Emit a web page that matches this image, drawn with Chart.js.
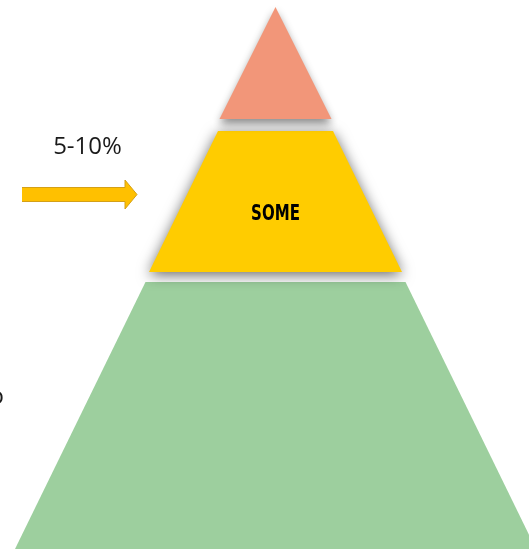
<!DOCTYPE html>
<html>
<head>
<meta charset="utf-8">
<script src="https://cdn.jsdelivr.net/npm/chart.js@4.4.1/dist/chart.umd.min.js"></script>
<style>
  html, body { margin: 0; padding: 0; background: #fff; }
  #wrap { width: 529px; height: 549px; }
</style>
</head>
<body>
<div id="wrap"><canvas id="chart" width="529" height="549"></canvas></div>
<script>
// Niveaux de la pyramide, du haut vers le bas (coordonnées)
const levelNames = ["", "SOME", ""];
const levelTopY = [7, 131, 282];
const levelBottomY = [119, 272, 549];
const levelTopHalf = [0, 57.5, 130];
const levelBottomHalf = [56, 126.5, 260.5];
const levelColors = ["#F29679", "#FFCC00", "#9DCF9E"];
const pyramidCenter = 275.5;

// Annotation à gauche
const sideLabel = "5-10%";
const cutLabel = "o";

// Ombres portées par niveau (le vert n'en a pas)
const SHADOWS = [
  { color: "rgba(0,0,0,0.45)", blur: 9, dy: 5 },
  { color: "rgba(0,0,0,0.6)", blur: 14, dy: 3 },
  null
];

function levelPolygon(i) {
  const c = pyramidCenter;
  return [
    { x: c - levelTopHalf[i], y: levelTopY[i] },
    { x: c + levelTopHalf[i], y: levelTopY[i] },
    { x: c + levelBottomHalf[i], y: levelBottomY[i] },
    { x: c - levelBottomHalf[i], y: levelBottomY[i] }
  ];
}

// Flèche jaune (forme annotée, pas une donnée)
const arrowShape = [
  { x: 22, y: 187.5 }, { x: 125, y: 187.5 }, { x: 125, y: 180 },
  { x: 137, y: 194.5 }, { x: 125, y: 209 }, { x: 125, y: 201.5 }, { x: 22, y: 201.5 }
];

const datasets = levelNames.map((name, i) => ({
  label: name || "level" + i,
  data: levelPolygon(i),
  showLine: true,
  fill: "shape",
  backgroundColor: levelColors[i],
  borderWidth: 0,
  pointRadius: 0,
  tension: 0
}));

datasets.push({
  label: "arrow",
  data: arrowShape,
  showLine: true,
  fill: "shape",
  backgroundColor: "#FFC000",
  borderColor: "#D4A017",
  borderWidth: 1,
  pointRadius: 0,
  tension: 0
});

function applyShadow(ctx, idx) {
  const s = SHADOWS[idx];
  if (!s) return;
  ctx.shadowColor = s.color;
  ctx.shadowBlur = s.blur;
  ctx.shadowOffsetX = 0;
  ctx.shadowOffsetY = s.dy;
}

// Le Filler dessine avant notre hook, donc on prépare l'ombre du dataset suivant
// (Chart.js dessine les datasets du dernier au premier)
const shadowPlugin = {
  id: "shadows",
  beforeDatasetsDraw(chart) {
    chart.ctx.save();
    applyShadow(chart.ctx, chart.data.datasets.length - 1);
  },
  afterDatasetDraw(chart, args) {
    chart.ctx.restore();
    chart.ctx.save();
    applyShadow(chart.ctx, args.index - 1);
  },
  afterDatasetsDraw(chart) {
    chart.ctx.restore();
  }
};

const labelPlugin = {
  id: "labels",
  afterDraw(chart) {
    const { ctx, scales: { x, y } } = chart;
    ctx.save();
    ctx.fillStyle = "#1a1a1a";
    ctx.textAlign = "center";
    ctx.textBaseline = "alphabetic";
    ctx.font = "24px 'Open Sans', sans-serif";
    ctx.fillText(sideLabel, x.getPixelForValue(87.5), y.getPixelForValue(154));

    ctx.textAlign = "right";
    ctx.fillText(cutLabel, x.getPixelForValue(4), y.getPixelForValue(404));

    // Titre du niveau : police grasse étroite, compressée à l'horizontale
    const mid = (levelTopY[1] + levelBottomY[1]) / 2;
    ctx.translate(x.getPixelForValue(pyramidCenter), y.getPixelForValue(mid + 18.5));
    ctx.scale(0.76, 1);
    ctx.textAlign = "center";
    ctx.fillStyle = "#000";
    ctx.font = "bold 22px 'DejaVu Sans Condensed', 'DejaVu Sans', sans-serif";
    ctx.fillText(levelNames[1], 0, 0);
    ctx.restore();
  }
};

new Chart(document.getElementById("chart"), {
  type: "scatter",
  data: { datasets },
  options: {
    responsive: false,
    animation: false,
    layout: { padding: 0 },
    plugins: {
      legend: { display: false },
      tooltip: { enabled: false }
    },
    scales: {
      x: { type: "linear", min: 0, max: 529, display: false },
      y: { type: "linear", min: 0, max: 549, reverse: true, display: false }
    }
  },
  plugins: [shadowPlugin, labelPlugin]
});
</script>
</body>
</html>
